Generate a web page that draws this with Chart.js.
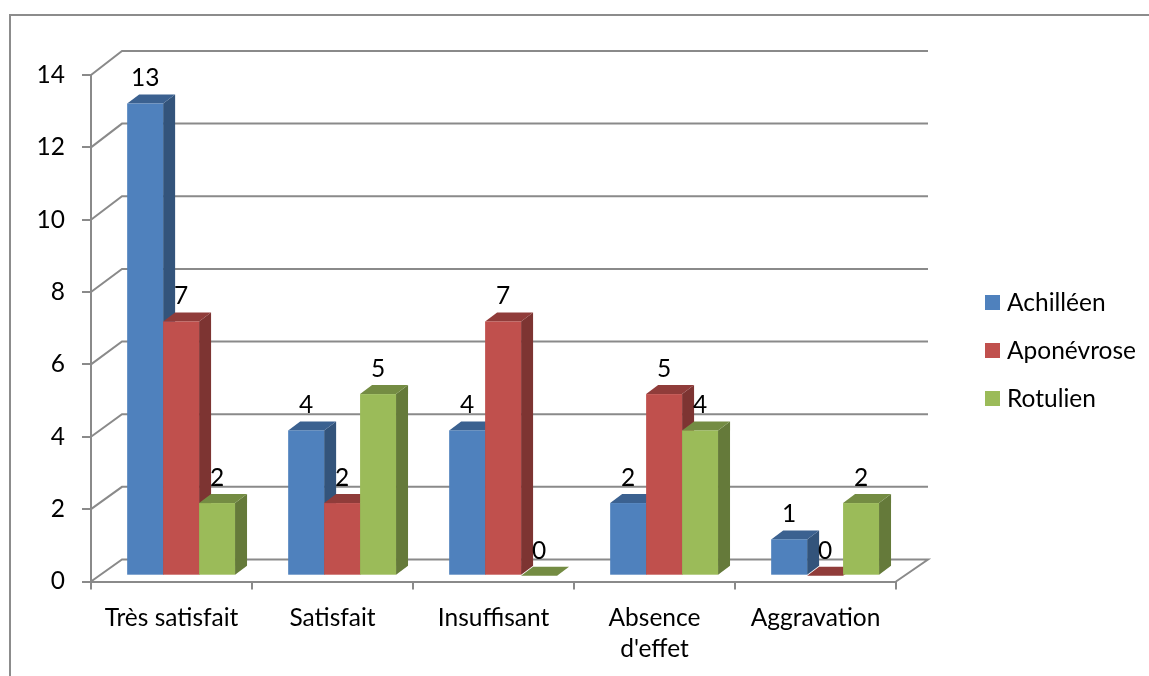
<!DOCTYPE html>
<html>
<head>
<meta charset="utf-8">
<title>Satisfaction</title>
<script src="https://cdn.jsdelivr.net/npm/chart.js@4/dist/chart.umd.js"></script>
<style>
  html, body { margin: 0; background: #fff; overflow: hidden; }
  #frame { position: absolute; left: 9px; top: 14px; right: 0; bottom: 0;
           border-left: 2px solid #8c8c8c; border-top: 2px solid #8c8c8c; }
  canvas { position: absolute; left: 0; top: 0; }
</style>
</head>
<body>
<div id="frame"></div>
<canvas id="graph" width="1149" height="676"></canvas>
<script>
const categories = ['Très satisfait', 'Satisfait', 'Insuffisant', ['Absence', "d'effet"], 'Aggravation'];
const achilleen = [13, 4, 4, 2, 1];
const aponevrose = [7, 2, 7, 5, 0];
const rotulien = [2, 5, 0, 4, 2];
const yTicks = [0, 2, 4, 6, 8, 10, 12, 14];

const FONT = 'Lato, "Open Sans", sans-serif';
const FONT_SIZE = 24.5;
const GREY = '#8a8a8a';

// front, top and side shades of each series
const faces = {
  Achilléen: ['#4f81bd', '#3b6190', '#33547b'],
  Aponévrose: ['#c0504d', '#903c3a', '#7d3432'],
  Rotulien: ['#9bbb59', '#748c43', '#657a3a'],
};

// the bars and the back wall sit on planes behind the front axes
const DEPTH_X = 12, DEPTH_Y = 9;
const BAR_DX = 9.6, BAR_DY = -5.8;
const WALL_DX = 31, WALL_DY = -22;
const WALL_RIGHT = 928;
const STRETCH = 1.004;

function onPlane(chart, px, dy) {
  const y0 = chart.scales.y.getPixelForValue(0);
  return y0 + dy + (px - y0) * STRETCH;
}

function drawWall(chart) {
  const { ctx, scales: { x, y } } = chart;
  ctx.save();
  ctx.strokeStyle = GREY;
  ctx.lineWidth = 2;
  yTicks.forEach((v) => {
    const front = y.getPixelForValue(v);
    const back = onPlane(chart, front, WALL_DY);
    ctx.beginPath();
    ctx.moveTo(x.left, front);
    ctx.lineTo(x.left + WALL_DX, back);
    ctx.lineTo(WALL_RIGHT, back);
    if (v === 0) ctx.lineTo(x.right, front);
    ctx.stroke();
  });
  ctx.restore();
}

function drawBox(ctx, bar, y, base, shades) {
  const l = bar.x - bar.width / 2 + BAR_DX;
  const r = bar.x + bar.width / 2 + BAR_DX;
  // side
  ctx.fillStyle = shades[2];
  ctx.beginPath();
  ctx.moveTo(r, y);
  ctx.lineTo(r + DEPTH_X, y - DEPTH_Y);
  ctx.lineTo(r + DEPTH_X, base - DEPTH_Y);
  ctx.lineTo(r, base);
  ctx.fill();
  // top
  ctx.fillStyle = shades[1];
  ctx.beginPath();
  ctx.moveTo(l, y);
  ctx.lineTo(l + DEPTH_X, y - DEPTH_Y);
  ctx.lineTo(r + DEPTH_X, y - DEPTH_Y);
  ctx.lineTo(r, y);
  ctx.fill();
  // front
  ctx.fillStyle = shades[0];
  ctx.fillRect(l, y, r - l, base - y);
}

const bars3d = {
  id: 'bars3d',
  beforeDatasetsDraw(chart) {
    const { ctx, data } = chart;
    drawWall(chart);
    // left to right so every front face covers its neighbour's side
    data.labels.forEach((_, i) => {
      data.datasets.forEach((ds, d) => {
        const bar = chart.getDatasetMeta(d).data[i];
        const y = onPlane(chart, bar.y, BAR_DY);
        const base = onPlane(chart, bar.base, BAR_DY);
        drawBox(ctx, bar, y, base, faces[ds.label]);
      });
    });
    ctx.save();
    ctx.fillStyle = '#000';
    ctx.font = `${FONT_SIZE}px ${FONT}`;
    ctx.textAlign = 'center';
    ctx.textBaseline = 'middle';
    data.datasets.forEach((ds, d) => {
      chart.getDatasetMeta(d).data.forEach((bar, i) => {
        const y = onPlane(chart, bar.y, BAR_DY);
        ctx.fillText(ds.data[i], bar.x + BAR_DX, y - 25);
      });
    });
    ctx.restore();
    return false;
  },
  afterDraw(chart) {
    const { ctx, data } = chart;
    ctx.save();
    ctx.font = `${FONT_SIZE}px ${FONT}`;
    ctx.textBaseline = 'middle';
    data.datasets.forEach((ds, d) => {
      const top = 295 + d * 48;
      ctx.fillStyle = ds.backgroundColor;
      ctx.fillRect(985, top, 15, 15);
      ctx.fillStyle = '#000';
      ctx.fillText(ds.label, 1007, top + 8);
    });
    ctx.restore();
  },
};

const series = { Achilléen: achilleen, Aponévrose: aponevrose, Rotulien: rotulien };

new Chart(document.getElementById('graph').getContext('2d'), {
  type: 'bar',
  data: {
    labels: categories,
    datasets: Object.keys(series).map((name) => ({
      label: name,
      data: series[name],
      backgroundColor: faces[name][0],
      categoryPercentage: 0.67,
      barPercentage: 1,
    })),
  },
  options: {
    responsive: false,
    animation: false,
    layout: { padding: { top: 75, left: 0, right: 253, bottom: 4.5 } },
    plugins: { legend: { display: false }, tooltip: { enabled: false } },
    scales: {
      x: {
        afterFit: (scale) => { scale.height = 90; },
        border: { color: GREY, width: 2 },
        grid: { color: GREY, lineWidth: 2, drawOnChartArea: false, tickLength: 8 },
        ticks: { color: '#000', padding: 13, maxRotation: 0, autoSkip: false,
                 font: { family: FONT, size: FONT_SIZE, lineHeight: 1.27 } },
      },
      y: {
        min: 0,
        max: 14,
        afterFit: (scale) => { scale.width = 91; },
        border: { color: GREY, width: 2 },
        grid: { color: GREY, lineWidth: 2, drawOnChartArea: false, tickLength: 9 },
        ticks: { color: '#000', padding: 17, stepSize: 2,
                 font: { family: FONT, size: FONT_SIZE } },
      },
    },
  },
  plugins: [bars3d],
});
</script>
</body>
</html>
